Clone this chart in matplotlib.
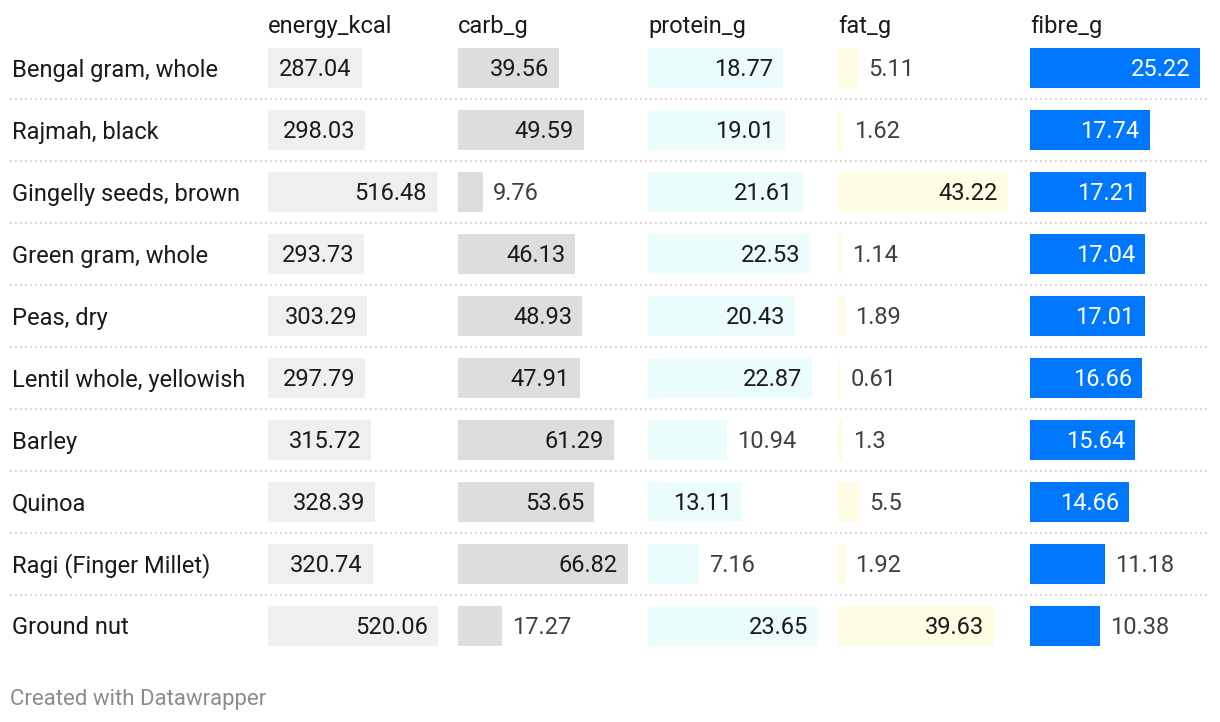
import matplotlib.pyplot as plt

# Daten
foods = ["Bengal gram, whole", "Rajmah, black", "Gingelly seeds, brown",
         "Green gram, whole", "Peas, dry", "Lentil whole, yellowish",
         "Barley", "Quinoa", "Ragi (Finger Millet)", "Ground nut"]
columns = ["energy_kcal", "carb_g", "protein_g", "fat_g", "fibre_g"]
energy_kcal = [287.04, 298.03, 516.48, 293.73, 303.29, 297.79, 315.72, 328.39, 320.74, 520.06]
carb_g = [39.56, 49.59, 9.76, 46.13, 48.93, 47.91, 61.29, 53.65, 66.82, 17.27]
protein_g = [18.77, 19.01, 21.61, 22.53, 20.43, 22.87, 10.94, 13.11, 7.16, 23.65]
fat_g = [5.11, 1.62, 43.22, 1.14, 1.89, 0.61, 1.3, 5.5, 1.92, 39.63]
fibre_g = [25.22, 17.74, 17.21, 17.04, 17.01, 16.66, 15.64, 14.66, 11.18, 10.38]

werte = [energy_kcal, carb_g, protein_g, fat_g, fibre_g]
farben = ["#efefef", "#dddddd", "#ebfcfc", "#fefce3", "#0077ff"]
text_innen = ["#1a1a1a", "#1a1a1a", "#1a1a1a", "#1a1a1a", "#ffffff"]

plt.rcParams['font.family'] = ['Roboto', 'DejaVu Sans']

W, H = 1220, 722
fig = plt.figure(figsize=(W / 100, H / 100), dpi=100)
fs = 17

# Tabellenbereich (Pixel)
y_top, y_bot = 37, 657
spalten_x = [268, 458, 648, 838, 1030]
bar_w = 170
n = len(foods)

# Hintergrund-Achse für Zeilen, Trennlinien
bg = fig.add_axes([0, 1 - y_bot / H, 1, (y_bot - y_top) / H])
bg.set_xlim(0, W)
bg.set_ylim(n - 0.5, -0.5)
bg.axis('off')
for i in range(n - 1):
    bg.plot([10, 1208], [i + 0.5, i + 0.5], color="#c8c8c8", lw=1.2,
            linestyle=(0, (1, 2)))
for i, name in enumerate(foods):
    bg.annotate(name, (12, i), xytext=(0, -2), textcoords='offset pixels',
                va='center', ha='left', fontsize=fs, color="#1a1a1a")

for k, (col, vals) in enumerate(zip(columns, werte)):
    ax = fig.add_axes([spalten_x[k] / W, 1 - y_bot / H, bar_w / W, (y_bot - y_top) / H])
    vmax = max(vals)
    ax.barh(range(n), vals, height=40 / 62, color=farben[k])
    ax.set_xlim(0, vmax)
    ax.set_ylim(n - 0.5, -0.5)
    ax.axis('off')
    for i, v in enumerate(vals):
        lab = f"{v:g}"
        if v / vmax > 0.5:
            ax.annotate(lab, (v, i), xytext=(-10, -2), textcoords='offset pixels',
                        ha='right', va='center', fontsize=fs, color=text_innen[k])
        else:
            ax.annotate(lab, (v, i), xytext=(10, -2), textcoords='offset pixels',
                        ha='left', va='center', fontsize=fs, color="#404040",
                        annotation_clip=False)
    fig.text(spalten_x[k] / W, 1 - 27 / H, col, ha='left', va='center',
             fontsize=fs, color="#1a1a1a")

fig.text(10 / W, 1 - 700 / H, "Created with Datawrapper", ha='left', va='center',
         fontsize=16, color="#8c8c8c")

plt.savefig("out.png", dpi=100)
